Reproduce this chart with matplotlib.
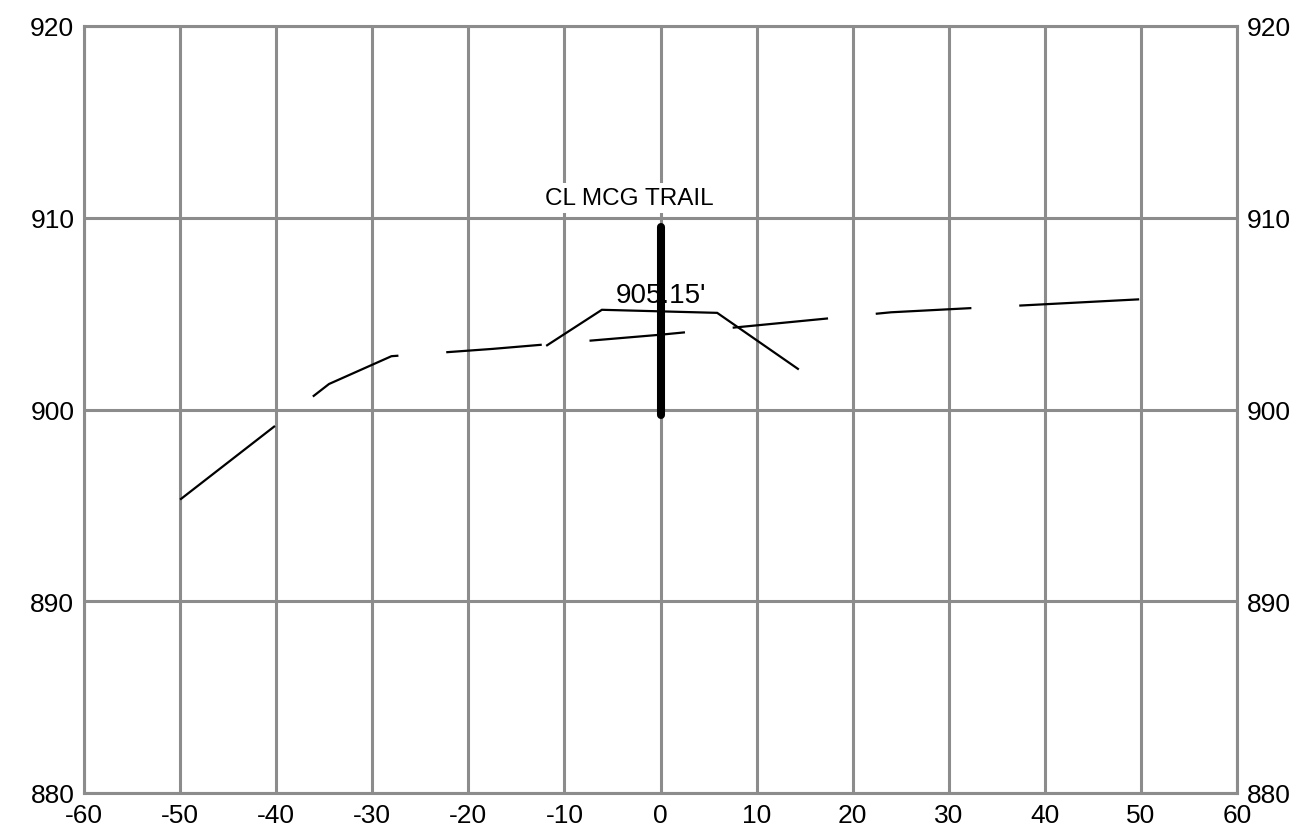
import matplotlib
matplotlib.use("Agg")
import matplotlib.pyplot as plt

# Existing ground profile (dashed)
eg_x = [-50, -34.5, -28, -17.5, 0, 24, 50]
eg_y = [895.3, 901.33, 902.78, 903.16, 903.9, 905.07, 905.75]

# Proposed trail section
pr_x = [-11.8, -6.1, 5.9, 14.3]
pr_y = [903.35, 905.2, 905.04, 902.12]

# Centerline marker
cl_x = [0, 0]
cl_y = [899.7, 909.5]
cl_label = "CL MCG TRAIL"
elev_label = "905.15'"
elev_pos = (0, 905.63)
cl_label_pos = (-3.25, 910.72)

x_ticks = list(range(-60, 61, 10))
y_ticks = list(range(880, 921, 10))

plt.rcParams['font.family'] = ['Liberation Sans', 'DejaVu Sans']
plt.rcParams['lines.scale_dashes'] = False
plt.rcParams['axes.unicode_minus'] = False

fig = plt.figure(figsize=(12.93, 8.28), dpi=100)
ax = fig.add_axes([84/1293, 1-794/828, (1237-84)/1293, (794-27)/828])

grid_col = '#8c8c8c'
ax.set_xlim(-60, 60)
ax.set_ylim(880, 920)
ax.set_xticks(x_ticks)
ax.set_yticks(y_ticks)
ax.grid(True, color=grid_col, linewidth=2.2, zorder=0)
ax.set_axisbelow(True)
for s in ax.spines.values():
    s.set_color(grid_col)
    s.set_linewidth(2.2)
ax.tick_params(axis='both', length=0, labelsize=19, colors='black')
ax.tick_params(axis='x', pad=7)
ax.tick_params(axis='y', pad=7, labelright=True, right=False)

dash = (0, (86.5, 34.5, 69, 34.5, 69, 34.5, 69, 34.5, 69, 34.5, 69, 34.5, 86.5, 34.5))
ax.plot(eg_x, eg_y, color='black', linewidth=1.6, linestyle=dash, zorder=3)
ax.plot(pr_x, pr_y, color='black', linewidth=1.6, zorder=3,
        solid_joinstyle='miter')

ax.text(elev_pos[0], elev_pos[1], elev_label, ha='center', va='baseline',
        fontsize=20, zorder=4)
ax.plot(cl_x, cl_y, color='black', linewidth=5.8, solid_capstyle='round', zorder=5)
ax.text(cl_label_pos[0], cl_label_pos[1], cl_label, ha='center', va='baseline',
        fontsize=17.5, zorder=4,
        bbox=dict(facecolor='white', edgecolor='none', pad=3))

fig.savefig("out.png", dpi=100)
